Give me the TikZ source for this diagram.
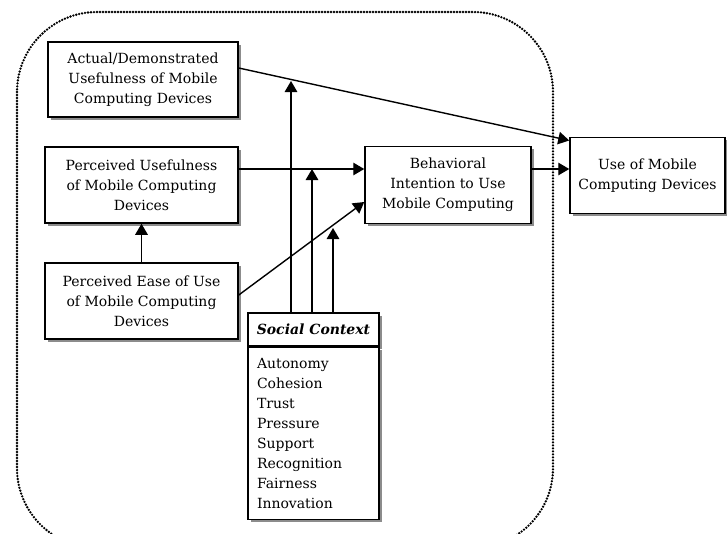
\documentclass[tikz,border=0pt]{standalone}
\usepackage{fontspec}
\setmainfont{DejaVu Serif}
\usetikzlibrary{arrows.meta,shadows}

\begin{document}
\begin{tikzpicture}[x=1pt,y=-1pt,line width=1.4pt,>={Triangle[length=11pt,width=12.5pt]}]
	\def \rowone{79.5}
	\def \rowtwo{185}
	\def \rowthree{301}
	\def \leftcol{141.5}
	\tikzstyle{c-box}=[rectangle,draw=black,fill=white,line width=1.5pt,align=center,inner sep=0pt,
		drop shadow={shadow xshift=2.5pt,shadow yshift=-2.5pt,fill=black!45,opacity=1},
		font=\fontsize{14}{20}\selectfont]
	\tikzstyle{frame}=[line width=2.6pt,dash pattern=on 0pt off 3pt,line cap=round,rounded corners=80pt]
	\useasboundingbox (0,0) rectangle (727,533);

	% dotted boundary
	\draw[frame] (17,12) rectangle (553,548);

	% constructs
	\node[c-box,minimum width=190,minimum height=75] (adu) at (143,\rowone) {Actual/Demonstrated\\Usefulness of Mobile\\Computing Devices};
	\node[c-box,minimum width=193,minimum height=76] (pu) at (\leftcol,\rowtwo) {Perceived Usefulness\\of Mobile Computing\\Devices};
	\node[c-box,minimum width=193,minimum height=76] (peou) at (\leftcol,\rowthree) {Perceived Ease of Use\\of Mobile Computing\\Devices};
	\node[c-box,minimum width=166,minimum height=77] (bi) at (448,\rowtwo) {Behavioral\\Intention to Use\\Mobile Computing};
	\node[c-box,minimum width=155,minimum height=76] (use) at (647.5,175.5) {Use of Mobile\\Computing Devices};

	% social context
	\node[c-box,minimum width=131,minimum height=33,font=\fontsize{14}{20}\selectfont\bfseries\itshape] (sch) at (313.5,329.5) {Social Context};
	\node[c-box,minimum width=131,minimum height=172,anchor=north,align=left,text width=113] (scl) at (sch.south)
		{Autonomy\\Cohesion\\Trust\\Pressure\\Support\\Recognition\\Fairness\\Innovation};

	% points where the moderators meet
	\coordinate (t1) at (291,81);
	\coordinate (t2) at (312,169);
	\coordinate (t3) at (333,228);

	\draw[->] ([yshift=11.5pt]adu.east) -- ([yshift=35pt]use.west);
	\draw[->] (pu.east |- t2) -- (bi.west |- t2);
	\draw[->] ([yshift=6pt]peou.east) -- ([yshift=-17pt]bi.west);
	\draw[->] (peou.north) -- (pu.south);
	\draw[->] (bi.east |- t2) -- (use.west |- t2);

	\draw[->] (sch.north -| t1) -- (t1);
	\draw[->] (sch.north -| t2) -- (t2);
	\draw[->] (sch.north -| t3) -- (t3);
\end{tikzpicture}
\end{document}
